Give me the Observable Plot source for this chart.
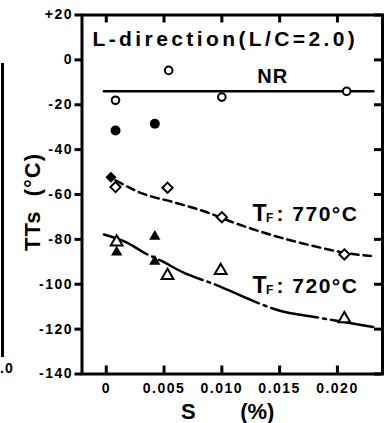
<!DOCTYPE html>
<html>
<head>
<meta charset="utf-8">
<script src="https://cdn.jsdelivr.net/npm/d3@7"></script>
<script src="https://cdn.jsdelivr.net/npm/@observablehq/plot@0.6"></script>
<style>
  html, body { margin: 0; padding: 0; background: #fff; overflow: hidden; }
  #wrap { position: relative; width: 389px; height: 423px; }
  #frag-line { position: absolute; left: 1px; top: 63px; width: 3px; height: 294px; background: #000; }
  #frag-text { position: absolute; left: 0px; top: 361px; font: bold 14px "Liberation Sans", sans-serif; letter-spacing: 1px; line-height: 14px; }
</style>
</head>
<body>
<div id="wrap"></div>
<script>
// ---- data ----
const xTicks = [0, 0.005, 0.010, 0.015, 0.020];
const xTickLabels = ["0", "0.005", "0.010", "0.015", "0.020"];
const yTicks = [20, 0, -20, -40, -60, -80, -100, -120, -140];
const yTickLabels = ["+20", "0", "-20", "-40", "-60", "-80", "-100", "-120", "-140"];

// NR (open circles)
const nrS = [0.0008, 0.0054, 0.0100, 0.0208];
const nrT = [-18.0, -4.7, -16.6, -14.0];
// filled circles
const fcS = [0.0008, 0.0042];
const fcT = [-31.5, -28.5];
// TF 770°C open diamonds
const odS = [0.0008, 0.0053, 0.0100, 0.0206];
const odT = [-56.7, -57.0, -70.1, -86.7];
// filled diamond
const fdS = [0.0004];
const fdT = [-52.3];
// TF 720°C open triangles
const otS = [0.0009, 0.0053, 0.0099, 0.0206];
const otT = [-81.2, -96.1, -93.9, -115.4];
// filled triangles
const ftS = [0.0009, 0.0042, 0.0042];
const ftT = [-85.7, -78.7, -89.8];

// fitted curves (traced)
const nrLineS = [-0.0002, 0.0231];
const nrLineT = [-14.0, -14.0];
const l770S = [0.0008, 0.0031, 0.0058, 0.0087, 0.0110, 0.0130, 0.0160, 0.0188, 0.0206, 0.0229];
const l770T = [-53.7, -59.5, -63.4, -67.9, -72.5, -76.0, -80.5, -84.0, -86.0, -87.4];
const l720S = [-0.0002, 0.0017, 0.0034, 0.0047, 0.0066, 0.0096, 0.0125, 0.0148, 0.0185, 0.0231];
const l720T = [-77.8, -81.2, -86.3, -89.4, -94.6, -100.5, -107.0, -111.5, -115.0, -119.1];

// labels
const titleText = "L-direction(L/C=2.0)";
const yTitle = "TTs\u00a0\u00a0(°C)";
const nrLabelS = [0.0144];
const nrLabelT = [-10.1];
const tfS = [0.01265, 0.01265];
const tfT = [-71.6, -104.1];
const tfTemp = ["770°C", "720°C"];

// ---- build ----
const pts = (S, T, extra) => S.map((s, i) => ({S: s, T: T[i], ...(extra ? {lab: extra[i]} : {})}));
const yLab = new Map(yTicks.map((t, i) => [t, yTickLabels[i]]));
const xLab = new Map(xTicks.map((t, i) => [t, xTickLabels[i]]));

const W = 389, H = 423, ML = 81.5, MR = 7, MT = 14.5, MB = 49.5;
const FW = W - ML - MR, FH = H - MT - MB;

const chart = Plot.plot({
  width: W,
  height: H,
  marginLeft: ML,
  marginRight: MR,
  marginTop: MT,
  marginBottom: MB,
  x: {domain: [-0.0021, 0.0239], axis: null},
  y: {domain: [-140, 20], axis: null},
  style: {fontFamily: '"Liberation Sans", Arial, sans-serif', fontWeight: "bold", background: "#fff", color: "#000"},
  marks: [
    // ticks: outward on the left, inward elsewhere
    Plot.tickY(yTicks, {y: d => d, insetLeft: -7, insetRight: FW, stroke: "#000", strokeWidth: 3}),
    Plot.tickY(yTicks, {y: d => d, insetLeft: FW - 8, stroke: "#000", strokeWidth: 3}),
    Plot.tickX(xTicks, {x: d => d, insetTop: FH - 8, stroke: "#000", strokeWidth: 3}),
    Plot.tickX(xTicks, {x: d => d, insetBottom: FH - 8, stroke: "#000", strokeWidth: 3}),
    // tick labels
    Plot.text(yTicks, {y: d => d, text: d => yLab.get(d), frameAnchor: "left", dx: -9, textAnchor: "end", lineAnchor: "middle", fontSize: 14}),
    Plot.text(xTicks, {x: d => d, text: d => xLab.get(d), frameAnchor: "bottom", dy: 9, textAnchor: "middle", lineAnchor: "top", fontSize: 14}),
    Plot.frame({stroke: "#000", strokeWidth: 3}),

    Plot.line(pts(nrLineS, nrLineT), {x: "S", y: "T", stroke: "#000", strokeWidth: 2.5}),
    Plot.line(pts(l770S, l770T), {x: "S", y: "T", curve: "monotone-x", stroke: "#000", strokeWidth: 2.5, strokeDasharray: "8,5"}),
    Plot.line(pts(l720S, l720T), {x: "S", y: "T", curve: "monotone-x", stroke: "#000", strokeWidth: 2.5, strokeDasharray: "48,5,3,5"}),

    Plot.dot(pts(fcS, fcT), {x: "S", y: "T", r: 5, fill: "#000"}),
    Plot.dot(pts(nrS, nrT), {x: "S", y: "T", r: 3.8, fill: "#fff", stroke: "#000", strokeWidth: 2}),
    Plot.dot(pts(odS, odT), {x: "S", y: "T", symbol: "diamond2", r: 4.6, fill: "#fff", stroke: "#000", strokeWidth: 2}),
    Plot.dot(pts(fdS, fdT), {x: "S", y: "T", symbol: "diamond2", r: 5, fill: "#000"}),
    Plot.dot(pts(otS, otT), {x: "S", y: "T", symbol: "triangle", r: 4.4, fill: "#fff", stroke: "#000", strokeWidth: 2}),
    Plot.dot(pts(ftS, ftT), {x: "S", y: "T", symbol: "triangle", r: 4.2, fill: "#000"}),

    Plot.text([titleText], {text: d => d, frameAnchor: "top-left", dx: 10.5, dy: 31, lineAnchor: "bottom", textAnchor: "start", fontSize: 21}),
    Plot.text(pts(nrLabelS, nrLabelT, ["NR"]), {x: "S", y: "T", text: "lab", lineAnchor: "bottom", textAnchor: "middle", fontSize: 20}),
    Plot.text(pts(tfS, tfT, tfTemp), {x: "S", y: "T", text: () => "T", lineAnchor: "bottom", textAnchor: "start", fontSize: 23}),
    Plot.text(pts(tfS, tfT, tfTemp), {x: "S", y: "T", text: () => "F", dx: 13.5, dy: 1, lineAnchor: "bottom", textAnchor: "start", fontSize: 12}),
    Plot.text(pts(tfS, tfT, tfTemp), {x: "S", y: "T", text: d => ": " + d.lab, dx: 24, lineAnchor: "bottom", textAnchor: "start", fontSize: 21}),

    Plot.text([yTitle], {text: d => d, frameAnchor: "left", dx: -49.5, dy: 7.5, rotate: -90, textAnchor: "middle", lineAnchor: "middle", fontSize: 22}),
    Plot.text(["S"], {text: d => d, frameAnchor: "bottom", dx: -44, dy: 44.5, textAnchor: "middle", lineAnchor: "bottom", fontSize: 22}),
    Plot.text(["(%)"], {text: d => d, frameAnchor: "bottom", dx: 25, dy: 44.5, textAnchor: "middle", lineAnchor: "bottom", fontSize: 22})
  ]
});

// letter spacing to match the wide lettering of the original
const spacing = new Map([[titleText, "3.4px"], ["NR", "1px"], [yTitle, "1px"]]);
tfTemp.forEach(t => spacing.set(": " + t, "1.5px"));
yTickLabels.concat(xTickLabels).forEach(t => spacing.set(t, "1.5px"));
d3.select(chart).selectAll("text").each(function () {
  const s = spacing.get(this.textContent);
  if (s) this.style.letterSpacing = s;
});

const wrap = document.getElementById("wrap");
wrap.appendChild(chart);
const fl = document.createElement("div"); fl.id = "frag-line"; wrap.appendChild(fl);
const ft = document.createElement("div"); ft.id = "frag-text"; ft.textContent = ".0"; wrap.appendChild(ft);
</script>
</body>
</html>
